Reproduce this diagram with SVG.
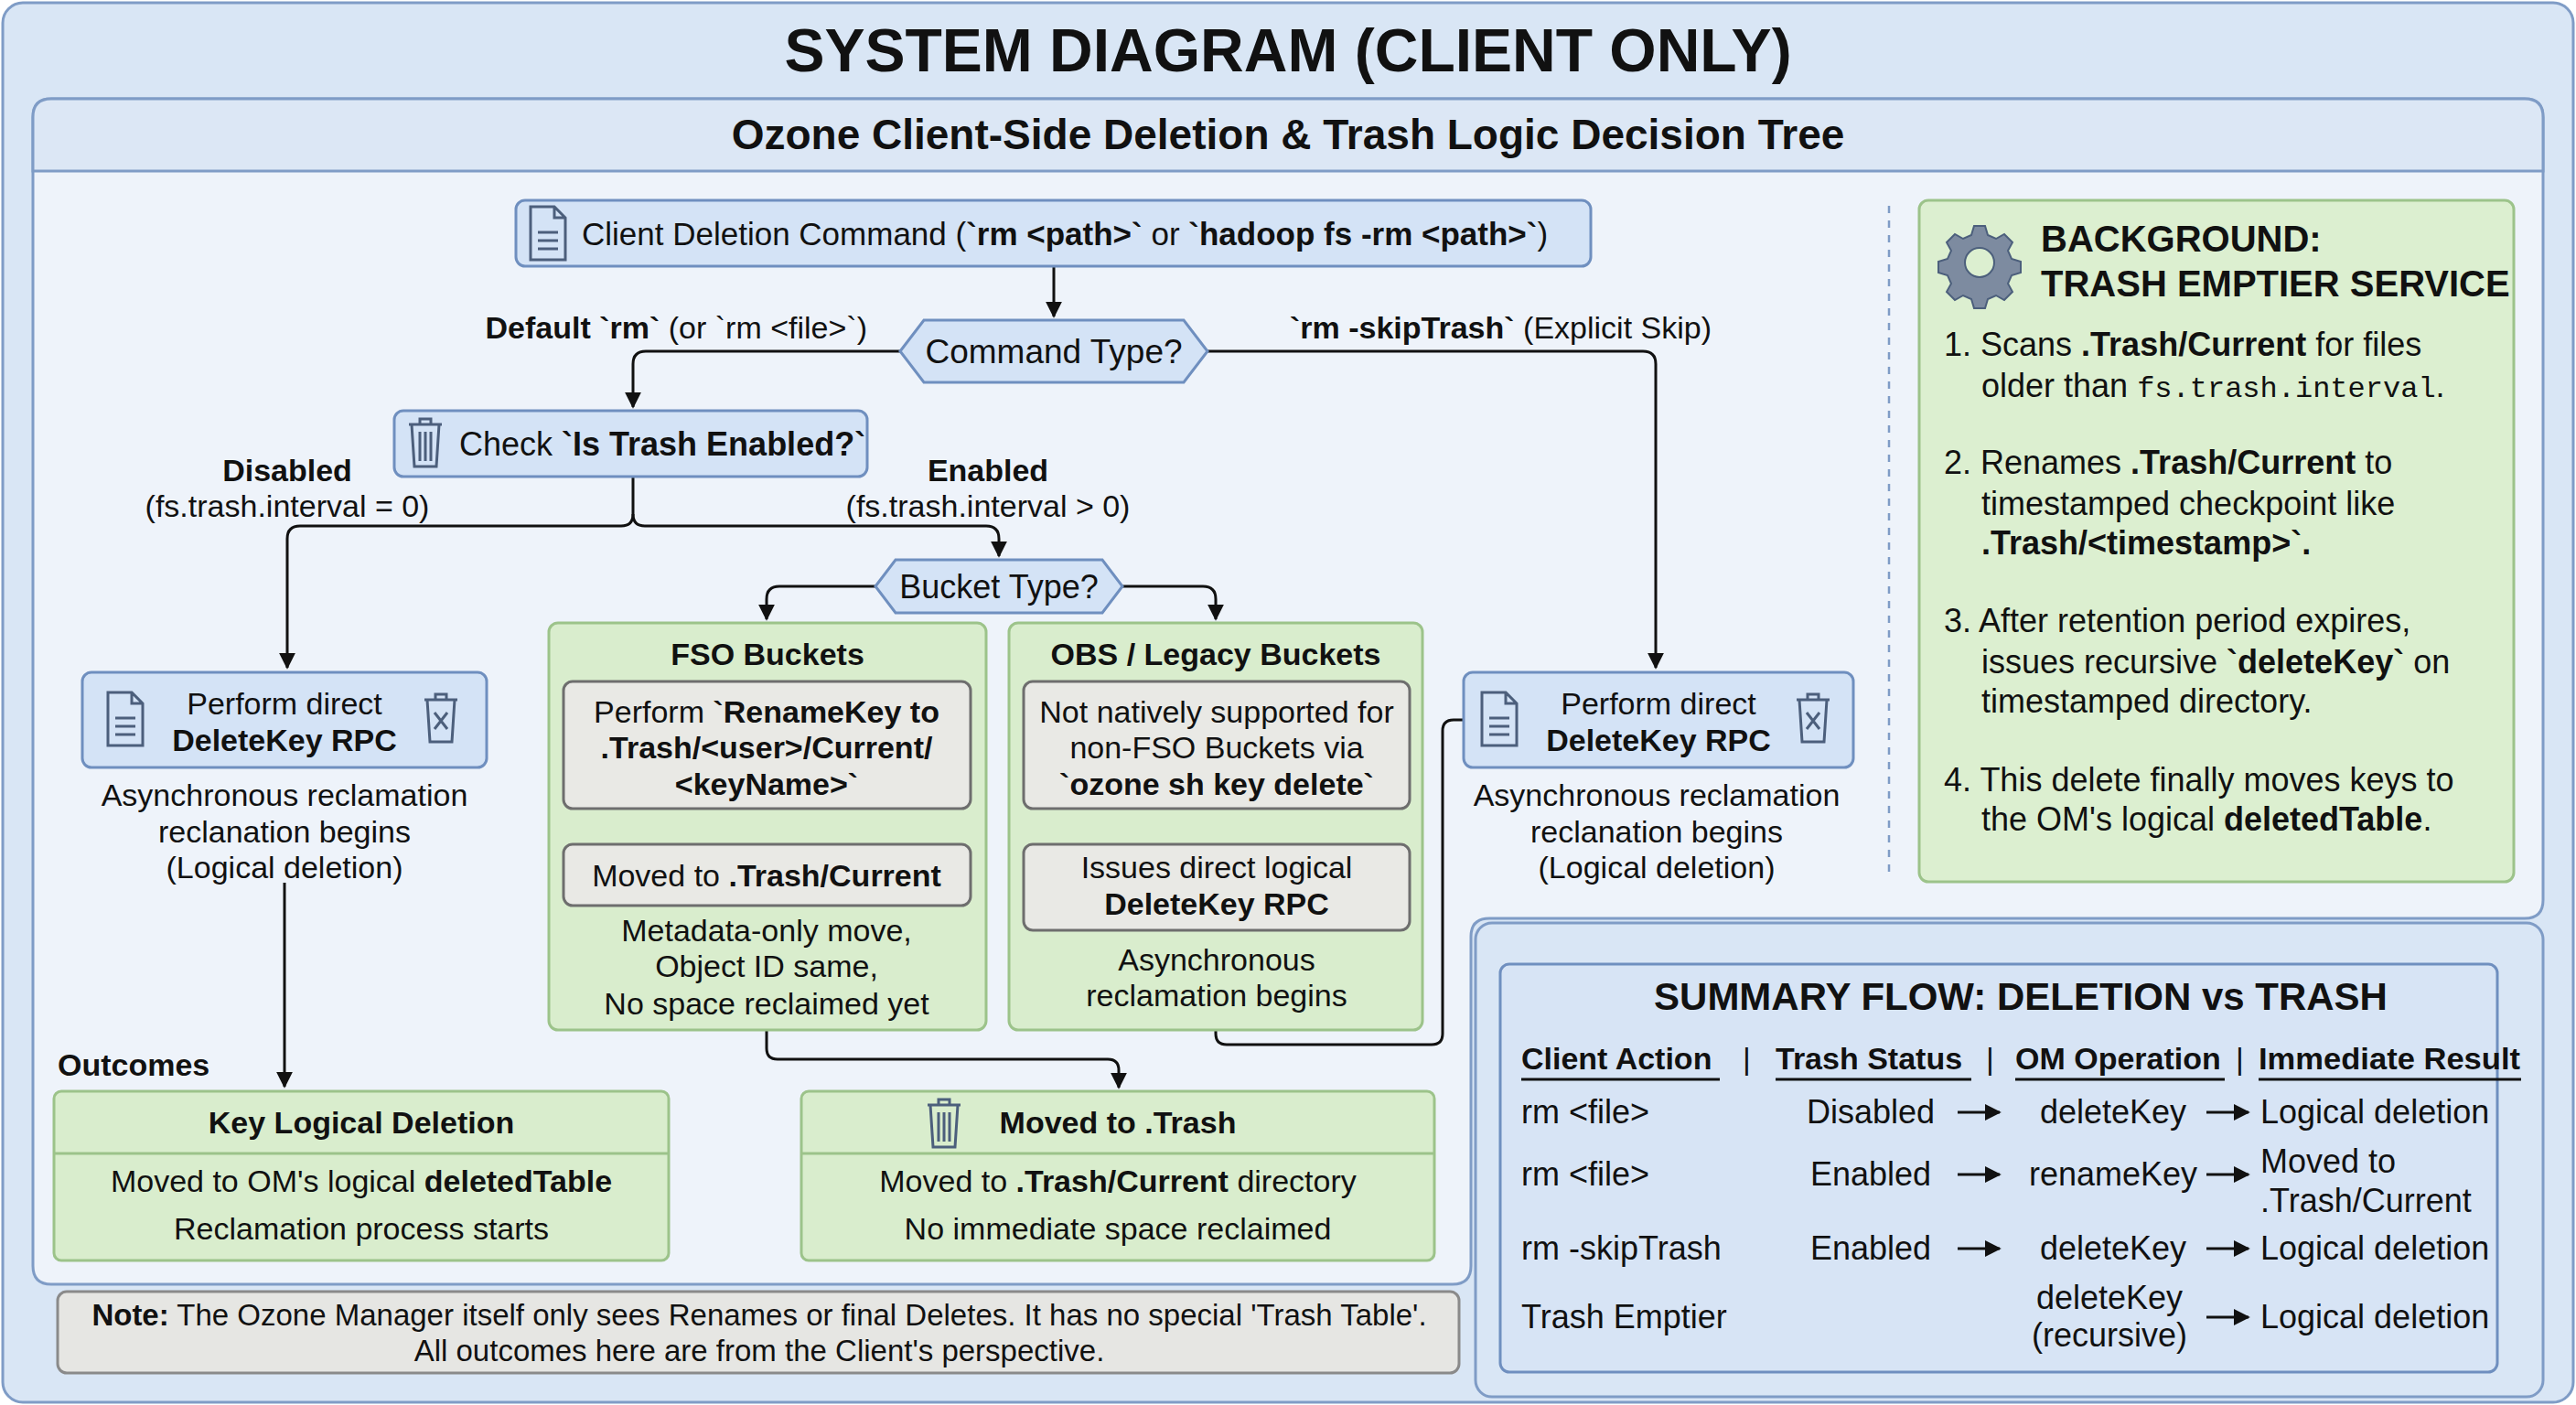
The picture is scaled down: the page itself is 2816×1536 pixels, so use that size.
<svg xmlns="http://www.w3.org/2000/svg" width="2816" height="1536" viewBox="0 0 2816 1536">
<style>
text{font-family:"Liberation Sans",Arial,sans-serif;fill:#111}
.t{font-size:34px}
.m{text-anchor:middle}
.b{font-weight:bold}
.mono{font-family:"Liberation Mono","DejaVu Sans Mono",monospace}
.blue{fill:#d4e3f6;stroke:#6f8fbf;stroke-width:3}
.green{fill:#d9edcd;stroke:#9cc38a;stroke-width:3}
.gray{fill:#e9e9e5;stroke:#6e6e6e;stroke-width:3}
.ln{fill:none;stroke:#111;stroke-width:3}
.ic{fill:none;stroke:#4c5f7c;stroke-width:3}
</style>
<defs>
<marker id="ar" viewBox="0 0 10 10" refX="9" refY="5" markerWidth="6" markerHeight="6" orient="auto"><path d="M0,0 L10,5 L0,10 z" fill="#111"/></marker>
<g id="doc"><path class="ic" d="M0,0 h26 l12,12 v46 h-38 z M26,0 v12 h12 M8,28 h22 M8,37 h22 M8,46 h22"/></g>
<g id="trash"><path class="ic" d="M2,8 h36 M14,8 v-6 h12 v6 M5,8 l3,46 h24 l3,-46 M14,16 v32 M20,16 v32 M26,16 v32"/></g>
<g id="trashx"><path class="ic" d="M2,8 h36 M14,8 v-6 h12 v6 M5,8 l3,46 h24 l3,-46 M13,22 l14,18 M27,22 l-14,18"/></g>
</defs>
<rect x="3" y="3" width="2810" height="1530" rx="22" fill="#d9e6f5" stroke="#7f9cc6" stroke-width="3"/>
<text x="1408" y="78" class="m b" font-size="66">SYSTEM DIAGRAM (CLIENT ONLY)</text>
<path d="M56,108 H2760 Q2780,108 2780,128 V984 Q2780,1004 2760,1004 H1628 Q1608,1004 1608,1024 V1384 Q1608,1404 1588,1404 H56 Q36,1404 36,1384 V128 Q36,108 56,108 Z" fill="#eef3fa" stroke="#7f9cc6" stroke-width="3"/>
<path d="M56,108 H2760 Q2780,108 2780,128 V187 H36 V128 Q36,108 56,108 Z" fill="#dce7f5" stroke="#7f9cc6" stroke-width="3"/>
<text x="1408" y="163" class="m b" font-size="46">Ozone Client-Side Deletion &amp; Trash Logic Decision Tree</text>

<g id="connectors">
<path class="ln" d="M1152,291 V346" marker-end="url(#ar)"/>
<path class="ln" d="M984,384 H706 Q692,384 692,398 V445" marker-end="url(#ar)"/>
<path class="ln" d="M1320,384 H1796 Q1810,384 1810,398 V730" marker-end="url(#ar)"/>
<path class="ln" d="M692,521 V562 Q692,575 679,575 H328 Q314,575 314,589 V730" marker-end="url(#ar)"/>
<path class="ln" d="M692,562 Q692,575 705,575 H1078 Q1092,575 1092,589 V608" marker-end="url(#ar)"/>
<path class="ln" d="M957,641 H852 Q838,641 838,655 V677" marker-end="url(#ar)"/>
<path class="ln" d="M1227,641 H1315 Q1329,641 1329,655 V677" marker-end="url(#ar)"/>
<path class="ln" d="M838,884 V919" marker-end="url(#ar)"/>
<path class="ln" d="M1329,884 V919" marker-end="url(#ar)"/>
<path class="ln" d="M311,965 V1188" marker-end="url(#ar)"/>
<path class="ln" d="M838,1126 V1146 Q838,1158 850,1158 H1211 Q1223,1158 1223,1170 V1189" marker-end="url(#ar)"/>
<path class="ln" d="M1329,1126 V1130 Q1329,1142 1341,1142 H1565 Q1577,1142 1577,1130 V799 Q1577,787 1589,787 H1600"/>
<text x="948" y="370" class="t" text-anchor="end"><tspan class="b">Default `rm`</tspan> (or `rm &lt;file&gt;`)</text>
<text x="1410" y="370" class="t"><tspan class="b">`rm -skipTrash`</tspan> (Explicit Skip)</text>
<text x="314" y="526" class="t m b">Disabled</text>
<text x="314" y="565" class="t m">(fs.trash.interval = 0)</text>
<text x="1080" y="526" class="t m b">Enabled</text>
<text x="1080" y="565" class="t m">(fs.trash.interval &gt; 0)</text>
</g>

<g id="cmd">
<rect class="blue" x="564" y="219" width="1175" height="72" rx="10"/>
<use href="#doc" x="580" y="226"/>
<text x="636" y="268" font-size="35">Client Deletion Command (<tspan class="b">`rm &lt;path&gt;`</tspan> or <tspan class="b">`hadoop fs -rm &lt;path&gt;`</tspan>)</text>
</g>
<g id="cmdtype">
<polygon class="blue" points="984,384 1010,350 1294,350 1320,384 1294,418 1010,418"/>
<text x="1152" y="397" class="m" font-size="37">Command Type?</text>
</g>
<g id="check">
<rect class="blue" x="431" y="449" width="517" height="72" rx="10"/>
<use href="#trash" x="445" y="456"/>
<text x="502" y="498" font-size="36">Check <tspan class="b">`Is Trash Enabled?`</tspan></text>
</g>
<g id="buckettype">
<polygon class="blue" points="957,641 979,612 1205,612 1227,641 1205,670 979,670"/>
<text x="1092" y="654" class="m" font-size="36">Bucket Type?</text>
</g>

<g id="del-left">
<rect class="blue" x="90" y="735" width="442" height="104" rx="10"/>
<use href="#doc" x="118" y="757"/>
<use href="#trashx" x="462" y="757"/>
<text x="311" y="781" class="t m">Perform direct</text>
<text x="311" y="821" class="t m b">DeleteKey RPC</text>
<text x="311" y="881" class="t m">Asynchronous reclamation</text>
<text x="311" y="921" class="t m">reclanation begins</text>
<text x="311" y="960" class="t m">(Logical deletion)</text>
</g>

<g id="fso">
<rect class="green" x="600" y="681" width="478" height="445" rx="10"/>
<text x="839" y="727" class="t m b">FSO Buckets</text>
<rect class="gray" x="616" y="745" width="445" height="139" rx="10"/>
<text x="838" y="790" class="t m">Perform <tspan class="b">`RenameKey to</tspan></text>
<text x="838" y="829" class="t m b">.Trash/&lt;user&gt;/Current/</text>
<text x="838" y="869" class="t m b">&lt;keyName&gt;`</text>
<rect class="gray" x="616" y="923" width="445" height="67" rx="10"/>
<text x="838" y="969" class="t m">Moved to <tspan class="b">.Trash/Current</tspan></text>
<text x="838" y="1029" class="t m">Metadata-only move,</text>
<text x="838" y="1068" class="t m">Object ID same,</text>
<text x="838" y="1109" class="t m">No space reclaimed yet</text>
</g>

<g id="obs">
<rect class="green" x="1103" y="681" width="452" height="445" rx="10"/>
<text x="1329" y="727" class="t m b">OBS / Legacy Buckets</text>
<rect class="gray" x="1119" y="745" width="422" height="139" rx="10"/>
<text x="1330" y="790" class="t m">Not natively supported for</text>
<text x="1330" y="829" class="t m">non-FSO Buckets via</text>
<text x="1330" y="869" class="t m b">`ozone sh key delete`</text>
<rect class="gray" x="1119" y="923" width="422" height="94" rx="10"/>
<text x="1330" y="960" class="t m">Issues direct logical</text>
<text x="1330" y="1000" class="t m b">DeleteKey RPC</text>
<text x="1330" y="1061" class="t m">Asynchronous</text>
<text x="1330" y="1100" class="t m">reclamation begins</text>
</g>

<g id="del-right">
<rect class="blue" x="1600" y="735" width="426" height="104" rx="10"/>
<use href="#doc" x="1620" y="757"/>
<use href="#trashx" x="1962" y="757"/>
<text x="1813" y="781" class="t m">Perform direct</text>
<text x="1813" y="821" class="t m b">DeleteKey RPC</text>
<text x="1811" y="881" class="t m">Asynchronous reclamation</text>
<text x="1811" y="921" class="t m">reclanation begins</text>
<text x="1811" y="960" class="t m">(Logical deletion)</text>
</g>

<text x="63" y="1176" class="t b">Outcomes</text>

<g id="out-key">
<rect class="green" x="59" y="1193" width="672" height="185" rx="8"/>
<line x1="59" y1="1261" x2="731" y2="1261" stroke="#9cc38a" stroke-width="3"/>
<text x="395" y="1239" class="t m b">Key Logical Deletion</text>
<text x="395" y="1303" class="t m">Moved to OM's logical <tspan class="b">deletedTable</tspan></text>
<text x="395" y="1355" class="t m">Reclamation process starts</text>
</g>
<g id="out-trash">
<rect class="green" x="876" y="1193" width="692" height="185" rx="8"/>
<line x1="876" y1="1261" x2="1568" y2="1261" stroke="#9cc38a" stroke-width="3"/>
<use href="#trash" x="1012" y="1200"/>
<text x="1222" y="1239" class="t m b">Moved to .Trash</text>
<text x="1222" y="1303" class="t m">Moved to <tspan class="b">.Trash/Current</tspan> directory</text>
<text x="1222" y="1355" class="t m">No immediate space reclaimed</text>
</g>

<g id="note">
<rect x="63" y="1412" width="1532" height="89" rx="10" fill="#e6e6e3" stroke="#8a8a8a" stroke-width="3"/>
<text x="830" y="1449" class="m" font-size="33"><tspan class="b">Note:</tspan> The Ozone Manager itself only sees Renames or final Deletes. It has no special 'Trash Table'.</text>
<text x="830" y="1488" class="m" font-size="33">All outcomes here are from the Client's perspective.</text>
</g>

<line x1="2065" y1="225" x2="2065" y2="960" stroke="#7f9cc6" stroke-width="2.5" stroke-dasharray="8,8"/>
<g id="background">
<rect x="2098" y="219" width="650" height="745" rx="10" fill="#dcefd0" stroke="#9cc38a" stroke-width="3"/>
<g transform="translate(2164,287)" fill="#7d8ba0" stroke="#4c5f7c" stroke-width="2">
<path d="M-6,-40 h12 l3,10 l9,4 l9,-5 l9,9 l-5,9 l4,9 l10,3 v12 l-10,3 l-4,9 l5,9 l-9,9 l-9,-5 l-9,4 l-3,10 h-12 l-3,-10 l-9,-4 l-9,5 l-9,-9 l5,-9 l-4,-9 l-10,-3 v-12 l10,-3 l4,-9 l-5,-9 l9,-9 l9,5 l9,-4 z"/>
<circle r="16" fill="#dcefd0"/>
</g>
<text x="2231" y="275" class="b" font-size="40">BACKGROUND:</text>
<text x="2231" y="324" class="b" font-size="40">TRASH EMPTIER SERVICE</text>
<g class="t">
<text x="2125" y="389" font-size="36">1. Scans <tspan class="b">.Trash/Current</tspan> for files</text>
<text x="2166" y="434" font-size="36">older than <tspan class="mono" font-size="32">fs.trash.interval</tspan>.</text>
<text x="2125" y="518" font-size="36">2. Renames <tspan class="b">.Trash/Current</tspan> to</text>
<text x="2166" y="563" font-size="36">timestamped checkpoint like</text>
<text x="2166" y="606" font-size="36" class="b">.Trash/&lt;timestamp&gt;`.</text>
<text x="2125" y="691" font-size="36">3. After retention period expires,</text>
<text x="2166" y="736" font-size="36">issues recursive <tspan class="b">`deleteKey`</tspan> on</text>
<text x="2166" y="779" font-size="36">timestamped directory.</text>
<text x="2125" y="865" font-size="36">4. This delete finally moves keys to</text>
<text x="2166" y="908" font-size="36">the OM's logical <tspan class="b">deletedTable</tspan>.</text>
</g>
</g>

<g id="summary">
<rect x="1613" y="1009" width="1167" height="518" rx="18" fill="#d9e6f5" stroke="#7f9cc6" stroke-width="3"/>
<rect x="1640" y="1054" width="1090" height="446" rx="10" fill="#d7e4f5" stroke="#6f8fbf" stroke-width="3"/>
<text x="2209" y="1104" class="m b" font-size="42">SUMMARY FLOW: DELETION vs TRASH</text>
<g>
<text x="1663" y="1169" class="b" font-size="34">Client Action</text>
<text x="1905" y="1169" font-size="34">|</text>
<text x="1941" y="1169" class="b" font-size="34">Trash Status</text>
<text x="2171" y="1169" font-size="34">|</text>
<text x="2203" y="1169" class="b" font-size="34">OM Operation</text>
<text x="2444" y="1169" font-size="34">|</text>
<text x="2469" y="1169" class="b" font-size="34" textLength="286" lengthAdjust="spacingAndGlyphs">Immediate Result</text>
</g>
<g stroke="#111" stroke-width="3">
<line x1="1663" y1="1180" x2="1880" y2="1180"/>
<line x1="1941" y1="1180" x2="2155" y2="1180"/>
<line x1="2203" y1="1180" x2="2432" y2="1180"/>
<line x1="2469" y1="1180" x2="2756" y2="1180"/>
</g>
<g>
<text x="1663" y="1228" font-size="36">rm &lt;file&gt;</text>
<text x="2045" y="1228" class="m" font-size="36">Disabled</text>
<text x="2310" y="1228" class="m" font-size="36">deleteKey</text>
<text x="2471" y="1228" font-size="36">Logical deletion</text>
<text x="1663" y="1296" font-size="36">rm &lt;file&gt;</text>
<text x="2045" y="1296" class="m" font-size="36">Enabled</text>
<text x="2310" y="1296" class="m" font-size="36">renameKey</text>
<text x="2471" y="1282" font-size="36">Moved to</text>
<text x="2471" y="1325" font-size="36">.Trash/Current</text>
<text x="1663" y="1377" font-size="36">rm -skipTrash</text>
<text x="2045" y="1377" class="m" font-size="36">Enabled</text>
<text x="2310" y="1377" class="m" font-size="36">deleteKey</text>
<text x="2471" y="1377" font-size="36">Logical deletion</text>
<text x="1663" y="1452" font-size="36">Trash Emptier</text>
<text x="2306" y="1431" class="m" font-size="36">deleteKey</text>
<text x="2306" y="1472" class="m" font-size="36">(recursive)</text>
<text x="2471" y="1452" font-size="36">Logical deletion</text>
</g>
<g class="ln">
<path d="M2140,1216 H2186" marker-end="url(#ar)"/>
<path d="M2412,1216 H2458" marker-end="url(#ar)"/>
<path d="M2140,1284 H2186" marker-end="url(#ar)"/>
<path d="M2412,1284 H2458" marker-end="url(#ar)"/>
<path d="M2140,1365 H2186" marker-end="url(#ar)"/>
<path d="M2412,1365 H2458" marker-end="url(#ar)"/>
<path d="M2412,1440 H2458" marker-end="url(#ar)"/>
</g>
</g>
</svg>
